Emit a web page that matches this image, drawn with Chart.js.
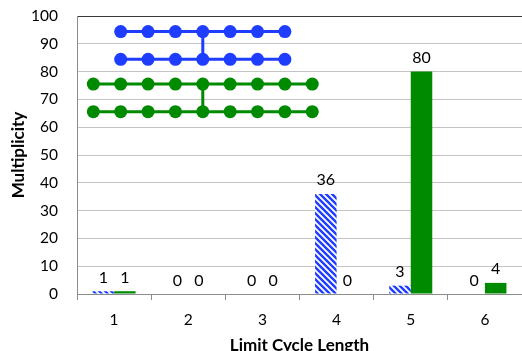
<!DOCTYPE html>
<html><head><meta charset="utf-8">
<script src="https://cdn.jsdelivr.net/npm/chart.js@4/dist/chart.umd.min.js"></script>
<style>html,body{margin:0;padding:0;background:#fff;}#wrap{width:522px;height:351px;}</style>
</head><body><div id="wrap"><canvas id="c" width="522" height="351"></canvas></div>
<script>
// ---- data ----
const categories = ['1', '2', '3', '4', '5', '6'];
const blueValues = [1, 0, 0, 36, 3, 0];
const greenValues = [1, 0, 0, 0, 80, 4];
const yTickMin = 0, yTickMax = 100, yTickStep = 10;
// inset network diagram (node index along a row, row heights in y units)
const greenNodeX = [0, 1, 2, 3, 4, 5, 6, 7, 8];
const blueNodeX = [1, 2, 3, 4, 5, 6, 7];
const blueRowY = [94.4, 84.4];
const greenRowY = [75.5, 65.6];
const linkX = [4];

// ---- styles ----
const BLUE = '#1f3dff';
const GREEN = '#008a00';
const INSET_ORIGIN = -0.28;   // category-axis position of node 0
const INSET_STEP = 0.369;     // category-axis distance between nodes
function hatch(color) {
  const c = document.createElement('canvas'); c.width = 6; c.height = 6;
  const g = c.getContext('2d');
  g.fillStyle = '#fff'; g.fillRect(0, 0, 6, 6);
  g.strokeStyle = color; g.lineWidth = 2.4; g.beginPath();
  for (let k = -1; k <= 1; k++) { g.moveTo(-1, -1 + 6 * k); g.lineTo(7, 7 + 6 * k); }
  g.stroke();
  return g.createPattern(c, 'repeat');
}
const FONT = 'Lato, "Open Sans", sans-serif';

const labelPlugin = {
  id: 'barLabels',
  afterDatasetsDraw(chart) {
    const ctx = chart.ctx;
    ctx.save();
    ctx.font = '16px ' + FONT; ctx.fillStyle = '#000';
    ctx.textAlign = 'center'; ctx.textBaseline = 'alphabetic';
    [0, 1].forEach(di => {
      const meta = chart.getDatasetMeta(di);
      meta.data.forEach((bar, i) => {
        ctx.fillText(String(chart.data.datasets[di].data[i]), bar.x, bar.y - 8.5);
      });
    });
    ctx.restore();
  }
};

// inset diagram drawn through the chart's scales
const insetPlugin = {
  id: 'inset',
  afterDatasetsDraw(chart) {
    const ctx = chart.ctx, sx = chart.scales.x, sy = chart.scales.y;
    const X = i => sx.getPixelForValue(INSET_ORIGIN + i * INSET_STEP), Y = v => sy.getPixelForValue(v);
    ctx.save();
    const rows = [[blueNodeX, blueRowY, BLUE], [greenNodeX, greenRowY, GREEN]];
    rows.forEach(([xs, ys, col]) => {
      ctx.strokeStyle = col; ctx.fillStyle = col; ctx.lineWidth = 3;
      ctx.beginPath();
      ctx.moveTo(X(linkX[0]), Y(ys[0])); ctx.lineTo(X(linkX[0]), Y(ys[1]));
      ys.forEach(yv => { ctx.moveTo(X(xs[0]), Y(yv)); ctx.lineTo(X(xs[xs.length - 1]), Y(yv)); });
      ctx.stroke();
      ys.forEach(yv => xs.forEach(xv => {
        ctx.beginPath(); ctx.arc(X(xv), Y(yv), 6.5, 0, Math.PI * 2); ctx.fill();
      }));
    });
    ctx.restore();
  }
};

new Chart(document.getElementById('c'), {
  type: 'bar',
  data: {
    labels: categories,
    datasets: [
      {data: blueValues, backgroundColor: hatch(BLUE), borderWidth: 0,
       categoryPercentage: 0.58, barPercentage: 1.0},
      {data: greenValues, backgroundColor: GREEN, borderWidth: 0,
       categoryPercentage: 0.58, barPercentage: 1.0}
    ]
  },
  options: {
    responsive: false, animation: false, events: [],
    layout: {padding: {top: 16, left: 0, right: 0, bottom: 0}},
    plugins: {legend: {display: false}, tooltip: {enabled: false}},
    scales: {
      x: {
        type: 'category', position: 'bottom', offset: true,
        grid: {drawOnChartArea: false, drawTicks: true, tickLength: 6, color: '#8c8c8c', offset: true},
        border: {color: '#8c8c8c', width: 1},
        ticks: {font: {family: FONT, size: 15.5}, color: '#000', padding: 11},
        title: {display: true, text: 'Limit Cycle Length', color: '#000',
                font: {family: FONT, size: 17, weight: 'bold'}, padding: {top: 0, bottom: -5}},
        afterFit(s) { s.height = 57; }
      },
      y: {
        type: 'linear', position: 'left', min: yTickMin, max: yTickMax,
        grid: {drawTicks: true, tickLength: 19, tickColor: 'rgba(0,0,0,0)',
               color: c => (c.tick && c.tick.value === yTickMax) ? '#3a3a3a' : '#c4c4c4'},
        border: {color: '#8c8c8c', width: 1},
        ticks: {stepSize: yTickStep, font: {family: FONT, size: 15.5}, color: '#000', padding: 0},
        title: {display: true, text: 'Multiplicity', color: '#000',
                font: {family: FONT, size: 17, weight: 'bold'}, padding: {top: 8, bottom: 0}},
        afterFit(s) { s.width = 77; }
      }
    }
  },
  plugins: [labelPlugin, insetPlugin]
});
</script>
</body></html>
